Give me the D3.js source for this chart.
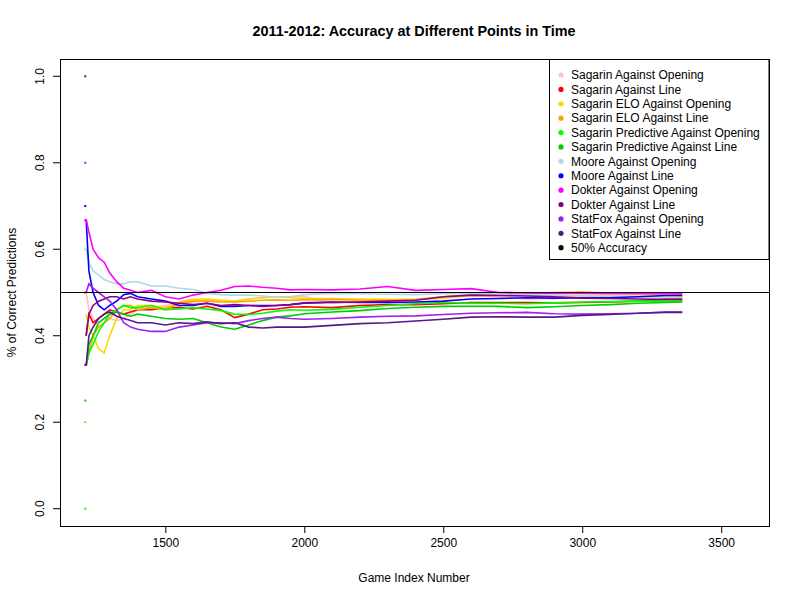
<!DOCTYPE html>
<html>
<head>
<meta charset="utf-8">
<script src="https://cdn.jsdelivr.net/npm/d3@7"></script>
<style>
  body { margin: 0; background: #fff; }
  svg text { font-family: "Liberation Sans", Arial, sans-serif; }
</style>
</head>
<body>
<div id="chart"></div>
<script>
// game index where each running accuracy was sampled
const gameIndex = [1215, 1225, 1240, 1260, 1280, 1300, 1325, 1350, 1375, 1400,
    1450, 1500, 1550, 1600, 1650, 1700, 1750, 1800, 1850, 1900, 1950, 2000,
    2100, 2200, 2300, 2400, 2500, 2600, 2700, 2800, 2900, 3000, 3100, 3200, 3300, 3360];

const seriesNames = [
    "Sagarin Against Opening", "Sagarin Against Line",
    "Sagarin ELO Against Opening", "Sagarin ELO Against Line",
    "Sagarin Predictive Against Opening", "Sagarin Predictive Against Line",
    "Moore Against Opening", "Moore Against Line",
    "Dokter Against Opening", "Dokter Against Line",
    "StatFox Against Opening", "StatFox Against Line"
];

const sagarinOpening = [0.5, 0.46, 0.44, 0.42, 0.43, 0.44, 0.435, 0.44, 0.45, 0.46,
    0.465, 0.47, 0.475, 0.478, 0.48, 0.482, 0.48, 0.485, 0.488, 0.49, 0.49, 0.491,
    0.475, 0.478, 0.48, 0.485, 0.49, 0.493, 0.49, 0.485, 0.486, 0.488, 0.49, 0.491, 0.492, 0.49];
const sagarinLine = [0.4, 0.45, 0.43, 0.44, 0.45, 0.46, 0.455, 0.45, 0.455, 0.46,
    0.46, 0.465, 0.465, 0.462, 0.468, 0.46, 0.442, 0.45, 0.46, 0.462, 0.466, 0.467,
    0.465, 0.47, 0.472, 0.472, 0.474, 0.477, 0.477, 0.477, 0.476, 0.477, 0.478, 0.48, 0.484, 0.484];
const eloOpening = [0.45, 0.42, 0.40, 0.37, 0.36, 0.40, 0.44, 0.46, 0.46, 0.47,
    0.47, 0.465, 0.478, 0.484, 0.485, 0.482, 0.48, 0.485, 0.488, 0.49, 0.488, 0.486,
    0.486, 0.485, 0.484, 0.484, 0.486, 0.493, 0.494, 0.494, 0.493, 0.492, 0.492, 0.491, 0.49, 0.489];
const eloLine = [0.33, 0.36, 0.40, 0.42, 0.43, 0.44, 0.46, 0.47, 0.47, 0.46,
    0.465, 0.46, 0.475, 0.48, 0.48, 0.478, 0.478, 0.48, 0.482, 0.483, 0.482, 0.483,
    0.484, 0.482, 0.482, 0.483, 0.49, 0.494, 0.496, 0.497, 0.50, 0.501, 0.499, 0.498, 0.497, 0.496];
const predOpening = [0.33, 0.36, 0.38, 0.41, 0.43, 0.45, 0.46, 0.47, 0.465, 0.465,
    0.47, 0.46, 0.462, 0.465, 0.462, 0.458, 0.45, 0.449, 0.452, 0.457, 0.46, 0.459,
    0.461, 0.466, 0.47, 0.474, 0.477, 0.475, 0.475, 0.474, 0.476, 0.478, 0.479, 0.48, 0.48, 0.48];
const predLine = [0.33, 0.38, 0.40, 0.43, 0.44, 0.45, 0.455, 0.45, 0.445, 0.45,
    0.445, 0.44, 0.438, 0.44, 0.43, 0.42, 0.415, 0.425, 0.435, 0.443, 0.446, 0.451,
    0.455, 0.458, 0.463, 0.466, 0.468, 0.468, 0.468, 0.465, 0.467, 0.47, 0.472, 0.475, 0.477, 0.478];
const mooreOpening = [0.6, 0.57, 0.55, 0.54, 0.53, 0.525, 0.52, 0.52, 0.525, 0.525,
    0.515, 0.515, 0.51, 0.507, 0.498, 0.495, 0.494, 0.494, 0.492, 0.489, 0.49, 0.495,
    0.498, 0.497, 0.496, 0.495, 0.497, 0.498, 0.496, 0.495, 0.493, 0.492, 0.491, 0.49, 0.49, 0.49];
const mooreLine = [0.67, 0.55, 0.50, 0.47, 0.46, 0.47, 0.48, 0.495, 0.498, 0.49,
    0.485, 0.48, 0.47, 0.47, 0.475, 0.468, 0.468, 0.47, 0.47, 0.47, 0.472, 0.476,
    0.478, 0.477, 0.477, 0.478, 0.48, 0.485, 0.486, 0.488, 0.487, 0.488, 0.488, 0.49, 0.493, 0.493];
const dokterOpening = [0.67, 0.64, 0.60, 0.58, 0.57, 0.545, 0.525, 0.51, 0.505, 0.50,
    0.505, 0.49, 0.485, 0.494, 0.50, 0.505, 0.514, 0.515, 0.512, 0.51, 0.506, 0.507,
    0.506, 0.508, 0.514, 0.505, 0.507, 0.509, 0.50, 0.499, 0.498, 0.498, 0.497, 0.497, 0.498, 0.497];
const dokterLine = [0.4, 0.45, 0.47, 0.48, 0.485, 0.49, 0.49, 0.485, 0.49, 0.485,
    0.48, 0.478, 0.475, 0.472, 0.475, 0.47, 0.472, 0.47, 0.468, 0.47, 0.472, 0.475,
    0.477, 0.478, 0.48, 0.482, 0.49, 0.494, 0.493, 0.492, 0.49, 0.487, 0.486, 0.485, 0.484, 0.484];
const statfoxOpening = [0.5, 0.52, 0.51, 0.50, 0.49, 0.48, 0.46, 0.43, 0.42, 0.415,
    0.41, 0.41, 0.42, 0.425, 0.43, 0.43, 0.428, 0.435, 0.44, 0.443, 0.44, 0.438,
    0.44, 0.443, 0.445, 0.446, 0.449, 0.452, 0.453, 0.454, 0.451, 0.45, 0.451, 0.452, 0.455, 0.455];
const statfoxLine = [0.33, 0.40, 0.42, 0.44, 0.45, 0.455, 0.445, 0.44, 0.435, 0.43,
    0.43, 0.425, 0.43, 0.428, 0.432, 0.428, 0.43, 0.42, 0.418, 0.42, 0.42, 0.42,
    0.424, 0.428, 0.43, 0.434, 0.438, 0.443, 0.444, 0.443, 0.443, 0.447, 0.449, 0.452, 0.454, 0.454];

// accuracy after the very first game of each series
const firstGame = 1212;
const firstGameValues = [0.5, 0.5, 0.5, 0.2, 0.0, 0.25, 0.6, 0.7, 0.667, 0.333, 0.8, 1.0];

const seriesValues = [sagarinOpening, sagarinLine, eloOpening, eloLine, predOpening, predLine,
    mooreOpening, mooreLine, dokterOpening, dokterLine, statfoxOpening, statfoxLine];

const colors = ["#FFC0CB", "#FF0000", "#FFD700", "#FFA500", "#00FF00", "#00CD00",
    "#ADD8E6", "#0000FF", "#FF00FF", "#8B008B", "#A020F0", "#551A8B"];

const xTicks = [1500, 2000, 2500, 3000, 3500];
const yTicks = [0, 0.2, 0.4, 0.6, 0.8, 1.0];

const width = 800, height = 600;
const box = { left: 60, right: 769, top: 59, bottom: 526 };

const svg = d3.select("#chart").append("svg")
    .attr("width", width)
    .attr("height", height);

const x = d3.scaleLinear().domain([1121, 3672]).range([box.left, box.right]);
const y = d3.scaleLinear().domain([-0.04, 1.04]).range([box.bottom, box.top]);

svg.append("text")
    .attr("x", 414)
    .attr("y", 36)
    .attr("text-anchor", "middle")
    .style("font-size", "14.4px")
    .style("font-weight", "bold")
    .text("2011-2012: Accuracy at Different Points in Time");

const xAxis = svg.append("g")
    .attr("transform", `translate(0,${box.bottom})`)
    .call(d3.axisBottom(x).tickValues(xTicks).tickSize(7).tickPadding(5).tickFormat(d3.format("d")));
xAxis.select(".domain").remove();
xAxis.selectAll("text").style("font-size", "12px").attr("fill", "#000");

const yAxis = svg.append("g")
    .attr("transform", `translate(${box.left},0)`)
    .call(d3.axisLeft(y).tickValues(yTicks).tickSize(7).tickFormat(d3.format(".1f")));
yAxis.select(".domain").remove();
yAxis.selectAll("text")
    .style("font-size", "12px")
    .attr("fill", "#000")
    .attr("text-anchor", "middle")
    .attr("transform", d => `translate(${-20},${y(d)}) rotate(-90)`)
    .attr("x", 0).attr("y", 0).attr("dy", "0.35em");
yAxis.selectAll(".tick").attr("transform", null);
yAxis.selectAll(".tick line").attr("y1", d => y(d)).attr("y2", d => y(d));

svg.append("text")
    .attr("x", 414)
    .attr("y", 582)
    .attr("text-anchor", "middle")
    .style("font-size", "12px")
    .text("Game Index Number");

svg.append("text")
    .attr("transform", `translate(16,${(box.top + box.bottom) / 2}) rotate(-90)`)
    .attr("text-anchor", "middle")
    .style("font-size", "12px")
    .text("% of Correct Predictions");

const line = d3.line()
    .x(d => x(d[0]))
    .y(d => y(d[1]));

const plot = svg.append("g");

seriesValues.forEach((vals, i) => {
    const pts = gameIndex.map((g, j) => [g, vals[j]]);
    plot.append("path")
        .datum(pts)
        .attr("fill", "none")
        .attr("stroke", colors[i])
        .attr("stroke-width", 1.6)
        .attr("d", line);
    plot.append("rect")
        .attr("x", x(firstGame) - 1)
        .attr("y", y(firstGameValues[i]) - 1)
        .attr("width", 2)
        .attr("height", 2)
        .attr("fill", colors[i]);
});

// 50% reference line
svg.append("line")
    .attr("x1", box.left).attr("x2", box.right)
    .attr("y1", y(0.5)).attr("y2", y(0.5))
    .attr("stroke", "#000").attr("stroke-width", 1);

// legend
const legend = svg.append("g");
legend.append("rect")
    .attr("x", 549.5).attr("y", 59.5)
    .attr("width", 219.5).attr("height", 200)
    .attr("fill", "#fff").attr("stroke", "#000");

const legendLabels = seriesNames.concat(["50% Accuracy"]);
const legendColors = colors.concat(["#000"]);
const rowY = d3.scaleLinear().domain([0, legendLabels.length - 1]).range([75, 247.7]);

legendLabels.forEach((lab, i) => {
    legend.append("circle")
        .attr("cx", 561).attr("cy", rowY(i))
        .attr("r", 2.6).attr("fill", legendColors[i]);
    legend.append("text")
        .attr("x", 571).attr("y", rowY(i))
        .attr("dy", "0.35em")
        .style("font-size", "12px")
        .text(lab);
});

// plot frame
svg.append("rect")
    .attr("x", box.left + 0.5).attr("y", box.top + 0.5)
    .attr("width", box.right - box.left).attr("height", box.bottom - box.top)
    .attr("fill", "none").attr("stroke", "#000");
</script>
</body>
</html>
